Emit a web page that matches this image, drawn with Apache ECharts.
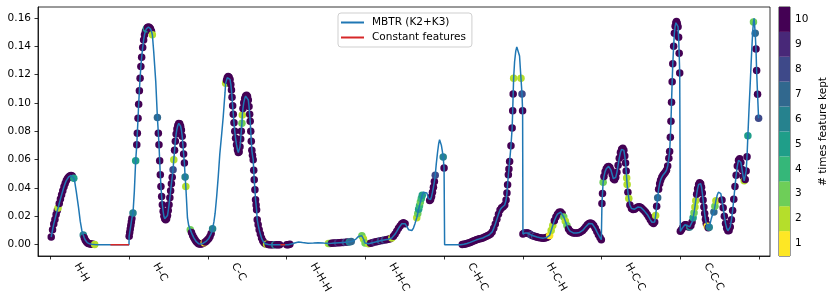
<!DOCTYPE html>
<html><head><meta charset="utf-8">
<script src="https://cdn.jsdelivr.net/npm/echarts@6/dist/echarts.min.js"></script>
<style>html,body{margin:0;padding:0;background:#fff}#c{width:830px;height:297px}</style>
</head><body><div id="c"></div>
<script>
// x = feature index (100 per pair/triple block), value = MBTR value, count = # times kept (0 = not kept)
const segNames = ['H-H','H-C','C-C','H-H-H','H-H-C','C-H-C','H-C-H','H-C-C','C-C-C'];
const segTicks = [0,100,200,300,400,500,600,700,800,900];
const yTicks = [0,0.02,0.04,0.06,0.08,0.10,0.12,0.14,0.16];
const countLabels = ['1','2','3','4','5','6','7','8','9','10'];
const countColors = ['#fde725','#b5de2b','#6ece58','#35b779','#1f9e89','#26828e','#31688e','#3e4989','#482878','#440154'];
const constantRanges = [[76,99.6],[292,298]];

const hh = [[0.8,0.0054,10],[2.5,0.0105,10],[4,0.0145,10],[5.5,0.0178,10],[7,0.0212,10],[8.5,0.0240,10],[9.5,0.0258,2],[11,0.0290,10],[12.5,0.0322,10],[14,0.0352,10],[15.5,0.0380,10],[17,0.0408,10],[18.5,0.0432,10],[20,0.0452,10],[21.5,0.0466,10],[23,0.0478,10],[24.5,0.0485,10],[26,0.0488,10],[27.5,0.0484,10],[29.5,0.0468,5],[30.8,0.0440,0],[32.6,0.0376,0],[35.6,0.0258,0],[37.7,0.0164,0],[39.7,0.0100,0],[41.5,0.0068,6],[42.8,0.0048,10],[44,0.0033,10],[45.3,0.0022,10],[46.6,0.0014,10],[48,0.0009,10],[49.5,0.0006,10],[51,0.0004,10],[52.5,0.0003,10],[54,0.0002,10],[56,0.0001,2],[60,0,0],[76,0,0],[99.6,0,0]];
const hc = [[99.8,0.0059,10],[100.5,0.0085,10],[101.2,0.0110,10],[101.9,0.0135,10],[102.6,0.0160,10],[103.3,0.0185,10],[104.7,0.0223,6],[106.4,0.0376,0],[108.1,0.0592,5],[109.5,0.0704,10],[110.2,0.0786,10],[111.1,0.0892,10],[111.9,0.0990,10],[112.8,0.1085,10],[113.7,0.1174,10],[114.7,0.1256,10],[115.7,0.1322,10],[117,0.1390,10],[118.2,0.1444,10],[119.3,0.1480,10],[120.5,0.1505,10],[121.7,0.1522,5],[123,0.1531,10],[124.3,0.1535,10],[125.6,0.1532,10],[126.9,0.1522,10],[128.2,0.1505,10],[129.3,0.1480,2],[131,0.1362,0],[133.6,0.1150,0],[135.7,0.0897,7],[136.9,0.0786,10],[137.7,0.0704,10],[138.6,0.0592,10],[139.4,0.0493,10],[140.2,0.0411,10],[141.1,0.0340,10],[142,0.0282,10],[143,0.0235,10],[144,0.0200,10],[145,0.0182,10],[146.2,0.0176,10],[147.4,0.0182,10],[148.5,0.0205,10],[149.5,0.0240,10],[150.5,0.0282,10],[151.5,0.0330,10],[152.5,0.0380,10],[153.5,0.0430,10],[154.5,0.0475,10],[155.6,0.0528,8],[156.5,0.0599,2],[157.5,0.0665,10],[158.5,0.0730,10],[159.5,0.0780,10],[160.5,0.0815,10],[161.6,0.0840,10],[162.8,0.0855,10],[164,0.0852,10],[165.2,0.0835,10],[166.2,0.0808,10],[167.2,0.0765,10],[168.1,0.0705,10],[169,0.0640,10],[170,0.0575,10],[170.9,0.0477,6],[171.8,0.0410,2],[173.9,0.0188,0],[175.5,0.0135,0],[177.5,0.0106,3],[179,0.0085,10],[180.5,0.0065,10],[182,0.0048,10],[183.5,0.0034,10],[185,0.0022,10],[186.5,0.0013,10],[188,0.0007,10],[189.5,0.0004,10],[191,0.0004,10],[192.5,0.0006,10],[194,0.0010,10],[195.2,0.0013,1],[196.5,0.0018,10],[198,0.0025,10],[199.5,0.0034,10]];
const cc = [[201,0.0044,10],[202.5,0.0058,10],[204,0.0078,10],[205.8,0.0113,6],[207.5,0.0160,0],[209,0.0220,0],[211,0.0340,0],[213,0.0480,0],[215,0.0640,0],[217.2,0.0770,0],[219.3,0.0900,0],[220.5,0.0990,0],[221.6,0.1070,0],[222.4,0.1138,2],[223.5,0.1160,10],[224.5,0.1177,10],[225.6,0.1185,10],[226.8,0.1180,10],[228,0.1165,10],[229,0.1130,10],[229.8,0.1090,10],[230.5,0.1040,10],[231.3,0.0980,10],[232.1,0.0920,10],[233,0.0860,10],[234,0.0800,10],[235,0.0750,10],[236.2,0.0705,10],[237.4,0.0670,10],[238.5,0.0650,10],[239.6,0.0655,10],[240.6,0.0690,10],[241.5,0.0745,10],[242.3,0.0800,10],[243.1,0.0857,3],[243.6,0.0915,2],[244.4,0.0960,10],[245.4,0.1000,10],[246.6,0.1030,10],[247.8,0.1048,10],[249,0.1053,10],[250.2,0.1045,10],[251.2,0.1020,10],[252.1,0.0975,10],[252.9,0.0920,10],[253.6,0.0870,10],[254.3,0.0800,10],[255,0.0730,10],[255.7,0.0665,10],[256.5,0.0630,10],[257.4,0.0599,10],[258.1,0.0525,10],[258.7,0.0458,10],[259.6,0.0387,10],[260.4,0.0317,10],[261.1,0.0280,10],[261.7,0.0246,10],[262.5,0.0176,10],[263.7,0.0140,10],[265,0.0106,10],[266.5,0.0075,10],[268,0.0047,10],[269.5,0.0028,10],[271,0.0015,10],[272.7,0.0007,10],[274.4,0.0002,2],[276.5,0.0001,10],[278.5,0,10],[280.5,0,10],[282.5,0,10],[284.7,0,6],[287,0,10],[289,0,10],[291,0,10],[293,0,0],[298,0,0],[300,0,10]];
const hhh = [[302,0,10],[304,0.0002,10],[306,0.0005,0],[310,0.0012,0],[315,0.0019,0],[320,0.0015,0],[327,0.0010,0],[334,0.0012,0],[340,0.0014,0],[347,0.0011,0],[353,0.0009,2],[355,0.0009,3],[357,0.0010,10],[359.5,0.0011,10],[362,0.0012,10],[364.5,0.0013,9],[367,0.0014,10],[369.5,0.0015,10],[372,0.0016,10],[374.5,0.0017,8],[377,0.0018,10],[379.5,0.0019,6],[382,0.0022,7],[385,0.0028,0],[388,0.0040,0],[391,0.0058,0],[393.5,0.0068,0],[395.5,0.0062,3],[397.5,0.0040,2],[399.5,0.0012,3]];
const hhc = [[400.5,0.0006,0],[402,0.0004,0],[404,0.0006,2],[406.5,0.0010,10],[409,0.0014,10],[411.5,0.0018,9],[414,0.0021,10],[416.5,0.0024,10],[419,0.0027,8],[421.5,0.0030,10],[424,0.0033,8],[426.5,0.0035,10],[429,0.0038,10],[431.5,0.0042,10],[433.5,0.0047,2],[435.6,0.0059,10],[437.7,0.0075,10],[439.8,0.0094,10],[442,0.0115,10],[444.1,0.0132,10],[446.2,0.0148,10],[448.3,0.0155,10],[450.4,0.0148,10],[452.5,0.0129,0],[455,0.0105,0],[456.8,0.0094,0],[459,0.0100,0],[461,0.0117,0],[463,0.0150,0],[465.2,0.0190,2],[466.5,0.0220,3],[467.6,0.0250,5],[468.7,0.0275,4],[469.8,0.0300,3],[471,0.0325,4],[472.2,0.0348,5],[473.7,0.0370,0],[476,0.0382,0],[478,0.0365,0],[480,0.0325,0],[481.6,0.0312,10],[482.8,0.0318,10],[484,0.0340,10],[485.2,0.0370,10],[486.4,0.0405,10],[487.6,0.0445,10],[488.7,0.0490,8],[490,0.0570,0],[491.6,0.0650,0],[493,0.0710,0],[494.2,0.0740,0],[495.3,0.0735,0],[496.5,0.0700,0],[497.7,0.0660,0],[498.8,0.0618,6],[499.9,0.0540,10],[500.6,0,0]];
const chc = [[521,0,0],[523,0.0001,10],[525,0.0003,10],[527,0.0005,10],[529,0.0008,10],[531,0.0012,10],[533,0.0016,10],[535,0.0020,10],[537,0.0025,10],[539,0.0030,10],[541,0.0034,10],[543,0.0038,10],[545,0.0041,10],[547,0.0044,10],[549,0.0047,10],[551,0.0052,10],[553,0.0058,10],[555,0.0063,10],[557,0.0068,10],[559,0.0075,10],[561,0.0090,10],[563,0.0115,10],[565,0.0145,10],[567,0.0180,10],[569,0.0215,10],[571,0.0245,10],[573,0.0260,10],[575,0.0268,10],[577,0.0280,10],[578.7,0.0315,10],[579.8,0.0364,10],[580.6,0.0423,10],[581.6,0.0493,10],[582.3,0.0533,10],[583.2,0.0587,10],[584.9,0.0697,10],[586.4,0.0822,10],[587.1,0.0944,10],[587.7,0.1063,10],[588.3,0.1174,2],[589.5,0.1290,0],[591,0.1365,0],[592.3,0.1395,0],[593.3,0.1400,0],[594.5,0.1390,0],[595.8,0.1330,0],[597.6,0.1174,2],[598.9,0.1063,8],[599.7,0.0944,10]];
const hch = [[600.1,0.0075,10],[601.5,0.0080,10],[603,0.0083,10],[604.5,0.0084,9],[606,0.0082,10],[607.5,0.0078,10],[609,0.0073,10],[610.5,0.0068,8],[612,0.0064,9],[613.5,0.0061,10],[615,0.0059,8],[616.5,0.0056,10],[618,0.0054,10],[620,0.0051,10],[622,0.0049,10],[624,0.0047,10],[626,0.0046,10],[628,0.0047,10],[630,0.0050,10],[632,0.0055,10],[634,0.0065,1],[636,0.0100,2],[638,0.0135,2],[640,0.0168,10],[642,0.0195,10],[644,0.0215,10],[646,0.0228,10],[648,0.0230,10],[650,0.0218,10],[652,0.0195,3],[654,0.0165,2],[656,0.0135,3],[658,0.0110,10],[660,0.0095,10],[662,0.0087,10],[664,0.0083,10],[666,0.0082,10],[668,0.0082,10],[670,0.0083,10],[672,0.0086,10],[674,0.0092,10],[676,0.0100,10],[678,0.0112,10],[680,0.0127,10],[682,0.0140,10],[684,0.0150,10],[686,0.0153,10],[688,0.0148,10],[690,0.0135,10],[692,0.0115,10],[694,0.0092,10],[696,0.0070,10],[698,0.0050,10],[699.7,0.0035,10]];
const hcc = [[700.5,0.0290,10],[701.2,0.0360,10],[702,0.0440,3],[703,0.0480,10],[704.5,0.0515,10],[706,0.0535,10],[707.5,0.0548,10],[709,0.0552,10],[710.5,0.0545,10],[712,0.0525,10],[713.5,0.0495,10],[715,0.0465,10],[716.5,0.0458,10],[718,0.0475,10],[719.5,0.0510,10],[721,0.0560,10],[722.5,0.0610,10],[724,0.0650,10],[725.5,0.0672,10],[727,0.0680,10],[728.3,0.0665,10],[729.5,0.0625,10],[730.5,0.0575,10],[731.3,0.0520,10],[731.9,0.0470,2],[732.5,0.0425,2],[733.5,0.0370,10],[734.6,0.0325,2],[736,0.0280,10],[738,0.0255,10],[740,0.0248,10],[742,0.0250,10],[744,0.0258,10],[746,0.0265,10],[748,0.0268,10],[750,0.0262,10],[752,0.0252,10],[754,0.0240,10],[756,0.0228,10],[758,0.0213,10],[760,0.0195,10],[762,0.0175,10],[764,0.0158,10],[766,0.0150,10],[767.5,0.0160,10],[768.7,0.0205,2],[770,0.0270,10],[771.3,0.0330,7],[772.5,0.0390,10],[773.8,0.0430,10],[775,0.0455,10],[776.5,0.0475,10],[778,0.0490,10],[779.5,0.0500,10],[781,0.0510,10],[782.5,0.0525,10],[784,0.0555,10],[785.5,0.0610,10],[786.5,0.0657,10],[787.4,0.0757,10],[788.2,0.0870,10],[788.9,0.1005,10],[789.7,0.1148,10],[790.5,0.1275,10],[791.6,0.1400,10],[792.5,0.1490,10],[793.5,0.1540,10],[794.4,0.1565,10],[795.2,0.1573,10],[796.2,0.1560,10],[797.2,0.1537,10],[797.9,0.1462,10],[798.6,0.1350,10],[799.3,0.1210,10]];
const ccc = [[800.1,0.0094,10],[801.5,0.0105,10],[803,0.0120,10],[804.5,0.0132,10],[806,0.0140,10],[807.5,0.0140,10],[809,0.0133,10],[810.5,0.0125,10],[812,0.0125,6],[813.5,0.0135,10],[815,0.0160,10],[816.3,0.0190,5],[817.5,0.0225,3],[818.6,0.0265,2],[819.7,0.0310,2],[820.8,0.0355,10],[822,0.0395,10],[823.3,0.0425,10],[824.6,0.0437,10],[825.9,0.0430,10],[827,0.0405,10],[828,0.0365,10],[829,0.0315,10],[830,0.0265,10],[831,0.0220,10],[832,0.0180,10],[833,0.0150,10],[834.2,0.0130,1],[835.5,0.0120,10],[836.8,0.0122,6],[838,0.0150,0],[839.5,0.0185,0],[841,0.0212,0],[842.7,0.0230,7],[844,0.0270,3],[845.3,0.0310,2],[847,0.0350,0],[848.5,0.0370,0],[850,0.0375,0],[851.5,0.0360,0],[853,0.0315,10],[854.5,0.0260,10],[856,0.0200,10],[857.5,0.0150,10],[859,0.0115,10],[860.5,0.0098,10],[862,0.0100,10],[863.5,0.0125,10],[865,0.0175,10],[866.5,0.0240,10],[868,0.0320,10],[869.5,0.0410,10],[871,0.0490,10],[872.5,0.0555,10],[874,0.0595,10],[875.5,0.0605,10],[877,0.0580,10],[878.5,0.0530,10],[880,0.0480,10],[881.2,0.0450,2],[882.5,0.0460,10],[883.7,0.0520,10],[884.8,0.0620,10],[885.9,0.0768,5],[887.3,0.0950,0],[889,0.1150,0],[890.6,0.1350,0],[892,0.1500,0],[893,0.1570,3],[893.8,0.1596,0],[895.2,0.1490,7],[896.2,0.1380,10],[897,0.1228,10],[898.2,0.1060,10],[899.5,0.0892,8]];

const segments = [hh, hc, cc, hhh, hhc, chc, hch, hcc, ccc];
const all = [].concat(...segments);
const lineData = all.map(p => [p[0], p[1]]);
const keptData = all.filter(p => p[2] > 0).map(p => [p[0], p[1], p[2]]);
const labelOffset = 33;

const FONT = 'DejaVu Sans';
const chart = echarts.init(document.getElementById('c'), null, {renderer: 'canvas'});
const series = [
  {type: 'scatter', name: 'kept', data: keptData, symbolSize: 7.5, z: 2,
   itemStyle: {color: p => countColors[p.value[2] - 1], opacity: 1}, silent: true},
  {type: 'line', name: 'MBTR (K2+K3)', data: lineData, showSymbol: false, symbol: 'none', z: 3,
   lineStyle: {color: '#1f77b4', width: 1.5}, itemStyle: {color: '#1f77b4'}, silent: true}
];
constantRanges.forEach(r => series.push({type: 'line', name: 'Constant features', data: [[r[0], 0], [r[1], 0]],
  symbol: 'none', z: 4, lineStyle: {color: '#d62728', width: 1.5}, itemStyle: {color: '#d62728'}, silent: true}));
series.push({type: 'bar', xAxisIndex: 1, yAxisIndex: 1, barWidth: '100%', silent: true,
  data: countLabels.map((l, i) => ({value: 1, itemStyle: {color: countColors[i]}}))});

chart.setOption({
  animation: false,
  textStyle: {fontFamily: FONT},
  grid: [
    {left: 38, top: 7, width: 732, height: 249, show: true, borderColor: '#000', borderWidth: 0.8},
    {left: 779, top: 7, width: 13, height: 249, show: true, borderColor: '#000', borderWidth: 0.8}
  ],
  legend: {
    data: [{name: 'MBTR (K2+K3)', icon: 'rect'}, {name: 'Constant features', icon: 'rect'}],
    orient: 'vertical', left: 338, top: 13, itemWidth: 23, itemHeight: 2, itemGap: 4,
    padding: [4, 6, 4, 3], borderColor: '#cfcfcf', borderWidth: 1, borderRadius: 3,
    backgroundColor: 'rgba(255,255,255,0.85)',
    textStyle: {fontFamily: FONT, fontSize: 10.5, color: '#000', padding: [0, 0, 0, 3]}
  },
  xAxis: [
    {type: 'value', gridIndex: 0, min: -16, max: 914, splitLine: {show: false},
     axisLine: {onZero: false, lineStyle: {color: '#000', width: 0.8}},
     axisTick: {customValues: segTicks, length: 3.5, lineStyle: {color: '#000', width: 0.8}},
     axisLabel: {customValues: segTicks.slice(0, 9).map(v => v + labelOffset), rotate: -60, margin: 8,
       fontSize: 10.5, color: '#000', fontFamily: FONT,
       formatter: v => segNames[Math.round((v - labelOffset) / 100)]}},
    {type: 'value', gridIndex: 1, min: 0, max: 1, show: false}
  ],
  yAxis: [
    {type: 'value', gridIndex: 0, min: -0.008, max: 0.1676, splitLine: {show: false},
     axisLine: {onZero: false, lineStyle: {color: '#000', width: 0.8}},
     axisTick: {customValues: yTicks, length: 3.5, lineStyle: {color: '#000', width: 0.8}},
     axisLabel: {customValues: yTicks, margin: 7, fontSize: 10.5, color: '#000', fontFamily: FONT,
       formatter: v => v.toFixed(2)}},
    {type: 'category', gridIndex: 1, position: 'right', data: countLabels,
     axisLine: {show: false}, axisTick: {alignWithLabel: true, length: 3.5, lineStyle: {color: '#000', width: 0.8}},
     axisLabel: {margin: 5, fontSize: 10.5, color: '#000', fontFamily: FONT},
     name: '# times feature kept', nameLocation: 'middle', nameRotate: 90, nameGap: 28,
     nameTextStyle: {fontSize: 10.5, color: '#000', fontFamily: FONT}}
  ],
  series: series
});
</script></body></html>
